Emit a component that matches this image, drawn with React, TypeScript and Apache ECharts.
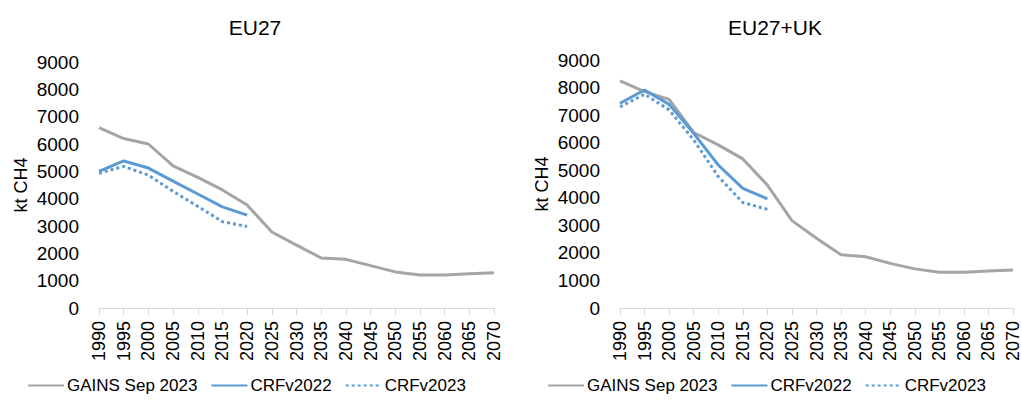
import React, { useEffect, useRef } from "react";
import * as echarts from "echarts";

const years = ["1990","1995","2000","2005","2010","2015","2020","2025","2030","2035","2040","2045","2050","2055","2060","2065","2070"];

const eu27Gains = [6600, 6200, 6000, 5200, 4780, 4320, 3770, 2780, 2300, 1830, 1780, 1550, 1320, 1210, 1210, 1250, 1290];
const eu27Crf2022 = [5000, 5380, 5120, 4640, 4170, 3700, 3400];
const eu27Crf2023 = [4930, 5180, 4860, 4270, 3720, 3160, 2980];

const ukGains = [8240, 7850, 7570, 6370, 5920, 5410, 4460, 3170, 2530, 1930, 1860, 1620, 1420, 1300, 1300, 1340, 1380];
const ukCrf2022 = [7430, 7910, 7390, 6340, 5190, 4340, 3960];
const ukCrf2023 = [7300, 7760, 7190, 6100, 4770, 3830, 3580];

const titles = ["EU27", "EU27+UK"];
const seriesNames = ["GAINS Sep 2023", "CRFv2022", "CRFv2023"];
const yTicksMax = 9000;
const yTicksStep = 1000;

const FONT = "Liberation Sans";
const GRAY = "#A5A5A5";
const BLUE = "#5B9BD5";

export default function App() {
  const ref = useRef<HTMLDivElement>(null);
  useEffect(() => {
    if (!ref.current) return;
    const chart = echarts.init(ref.current, undefined, { renderer: "svg" });
    const grids = [
      { left: 99, width: 395, top: 62, height: 246 },
      { left: 620, width: 394, top: 60, height: 248 },
    ];
    const data = [
      [eu27Gains, eu27Crf2022, eu27Crf2023],
      [ukGains, ukCrf2022, ukCrf2023],
    ];
    const xAxis = grids.map((_, i) => ({
      type: "category",
      gridIndex: i,
      data: years,
      boundaryGap: false,
      axisLine: { lineStyle: { color: "#D9D9D9", width: 1 } },
      axisTick: { show: true, interval: 0, length: 7, lineStyle: { color: "#D9D9D9" } },
      axisLabel: { rotate: 90, interval: 0, fontFamily: FONT, fontSize: 18, color: "#000", margin: 13 },
    }));
    const yAxis = grids.map((_, i) => ({
      type: "value",
      gridIndex: i,
      min: 0,
      max: yTicksMax,
      interval: yTicksStep,
      splitLine: { show: false },
      axisLine: { show: false },
      axisTick: { show: false },
      axisLabel: { fontFamily: FONT, fontSize: 19, color: "#000", margin: 20, formatter: (v: number) => String(v) },
      name: "kt CH4",
      nameLocation: "middle",
      nameRotate: 90,
      nameGap: 69,
      nameTextStyle: { fontFamily: FONT, fontSize: 18, color: "#000" },
    }));
    const series: any[] = [];
    data.forEach((set, gi) => {
      set.forEach((vals, si) => {
        series.push({
          type: "line",
          name: seriesNames[si],
          xAxisIndex: gi,
          yAxisIndex: gi,
          data: vals,
          symbol: "none",
          lineStyle: {
            color: si === 0 ? GRAY : BLUE,
            width: 3,
            type: si === 2 ? [3, 3] : "solid",
          },
          itemStyle: { color: si === 0 ? GRAY : BLUE },
        });
      });
    });
    const legendBase = {
      top: 372,
      itemWidth: 36,
      itemHeight: 10,
      itemGap: 13,
      data: seriesNames,
      itemStyle: { opacity: 0, borderWidth: 0 },
      textStyle: { fontFamily: FONT, fontSize: 17, color: "#000", padding: [0, 0, 0, -2] },
      selectedMode: false,
    };
    chart.setOption({
      animation: false,
      title: [
        { text: titles[0], left: 250, top: 12, textAlign: "center", textStyle: { fontFamily: FONT, fontSize: 21, fontWeight: "normal", color: "#000" } },
        { text: titles[1], left: 770, top: 12, textAlign: "center", textStyle: { fontFamily: FONT, fontSize: 21, fontWeight: "normal", color: "#000" } },
      ],
      grid: grids,
      xAxis,
      yAxis,
      legend: [
        { ...legendBase, left: 22 },
        { ...legendBase, left: 542 },
      ],
      series,
    });
    return () => chart.dispose();
  }, []);
  return <div ref={ref} style={{ position: "fixed", left: 0, top: 0, width: 1022, height: 400, background: "#fff" }} />;
}
